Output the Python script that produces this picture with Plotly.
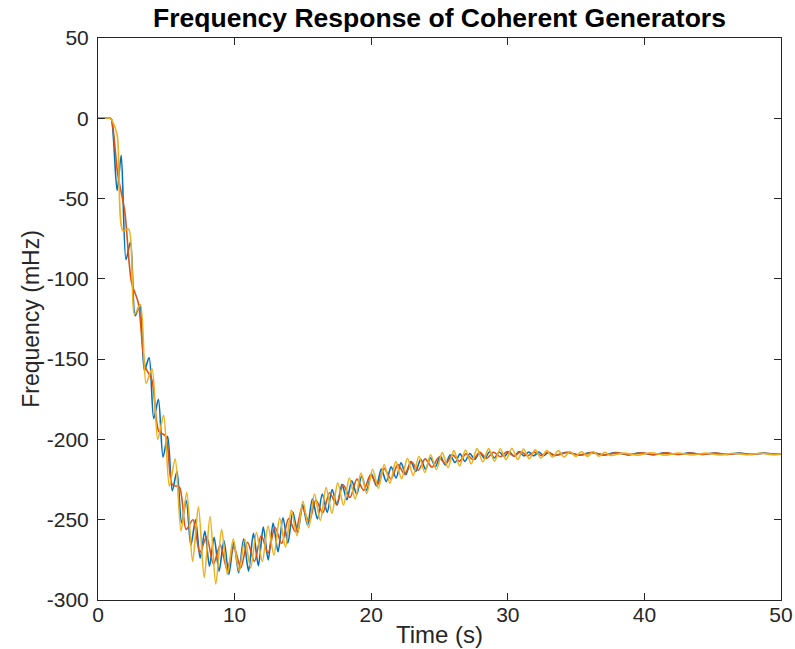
import plotly.graph_objects as go

# ---- data (time in s, frequency deviation in mHz) ----
t_blue = [0, 0.9, 1.0, 1.4, 1.7, 2.05, 2.38, 2.72, 3.06, 3.40, 3.74, 4.08, 4.42, 4.76, 5.10, 5.44, 5.78,
          6.12, 6.46, 6.80, 7.14, 7.48, 7.82, 8.16, 8.50, 8.86, 9.22, 9.58, 9.94, 10.30, 10.66, 11.02,
          11.38, 11.74, 12.10, 12.46, 12.82, 13.18, 13.54, 13.90, 14.26, 14.62, 14.98, 15.34, 15.70,
          16.06, 16.42, 16.78, 17.14, 17.50, 17.86, 18.22, 18.58, 18.94, 19.30, 19.66, 20.02, 20.38,
          20.74, 21.10, 21.46, 21.82, 22.18, 22.54, 22.90, 23.26, 23.62, 23.98, 24.34, 24.70, 25.06,
          25.42, 25.78, 26.14, 26.50, 26.86, 27.22, 27.58, 27.94, 28.30, 28.66, 29.02, 29.38, 29.74,
          30.10, 30.46, 30.82, 31.18, 31.54, 31.90, 32.26, 32.62, 33.0, 33.4, 34.3, 35.2, 36.1, 37.0,
          37.9, 38.8, 39.7, 40.6, 41.5, 42.4, 43.3, 44.2, 45.1, 46.0, 46.9, 47.8, 48.7, 49.6, 50.0]
f_blue = [0, 0, -1, -45, -23, -88, -77, -123, -116, -157, -149, -187, -175, -211, -198, -232, -220,
          -252, -238, -266, -250, -274, -257, -279, -261, -282, -263, -284, -264, -283, -262, -282,
          -258.5, -278.6, -254.6, -275, -252, -270, -248.8, -264.6, -245, -258, -240.6, -253.4, -237,
          -249.6, -234, -245.4, -231.2, -241, -228, -237.6, -225.7, -234.2, -222.8, -231.7, -221.4, -229,
          -218.5, -226.3, -217.1, -224, -214.6, -221.9, -213.7, -220, -212.3, -218.5, -211.5, -217, -210.4,
          -215.9, -209.8, -214.4, -209, -213.6, -208.8, -212.4, -208, -211.9, -207.7, -211.5, -207.8, -210.6,
          -207.5, -210.5, -207.6, -210.3, -207.8, -210.2, -207.8, -210.1, -208, -210, -208, -209.8, -208.1, -209.7,
          -208.2, -209.6, -208.3, -209.5, -208.4, -209.4, -208.4, -209.4, -208.5, -209.3, -208.5, -209.3, -208.5, -209.2, -209]

t_red = [0, 0.9, 1.0, 1.45, 1.95, 2.45, 2.95, 3.45, 3.95, 4.45, 4.95, 5.45, 5.95, 6.45, 6.95, 7.45,
         7.95, 8.45, 8.95, 9.45, 9.95, 10.45, 10.95, 11.45, 11.95, 12.45, 12.95, 13.45, 13.95, 14.45,
         14.95, 15.45, 15.95, 16.45, 16.95, 17.45, 17.95, 18.45, 18.95, 19.45, 19.95, 20.45, 20.95,
         21.45, 21.95, 22.45, 22.95, 23.45, 23.95, 24.45, 24.95, 25.45, 25.95, 26.45, 26.95, 27.45,
         27.95, 28.45, 28.95, 29.45, 29.95, 30.45, 30.95, 31.45, 31.95, 32.45, 32.95, 33.45, 34.4,
         35.3, 36.2, 37.1, 38.0, 38.9, 39.8, 40.7, 41.6, 42.5, 43.4, 44.3, 45.2, 46.1, 47.0, 47.9,
         48.8, 49.7, 50.0]
f_red = [0, 0, -1, -35, -57.5, -102, -115, -154.5, -163, -195, -198, -228.4, -229.5, -256, -250, -270.4,
         -260.6, -277.7, -265.8, -281, -267, -280, -264, -276, -259.8, -270.7, -254.8, -264.8, -249.3, -257.4,
         -242.3, -251.3, -237.7, -245.8, -233.2, -240.3, -228.2, -236.2, -224.7, -231.7, -222.1, -228.2, -218.2,
         -224.6, -215.7, -221.6, -214.1, -219.1, -212.1, -217.3, -211.1, -215.3, -209.6, -213.5, -209, -212.5,
         -208, -211.8, -208, -210.8, -207.6, -210.4, -207.7, -210.2, -207.9, -210, -208, -209.9, -208.1,
         -209.8, -208.2, -209.7, -208.3, -209.6, -208.3, -209.5, -208.4, -209.4, -208.5, -209.4, -208.5, -209.3, -208.6, -209.3,
         -208.6, -209.2, -209]

t_yellow = [0, 0.9, 1.0, 1.40, 1.825, 2.25, 2.675, 3.10, 3.525, 3.95, 4.375, 4.80, 5.225, 5.65, 6.075,
            6.50, 6.925, 7.35, 7.775, 8.20, 8.625, 9.05, 9.475, 9.90, 10.325, 10.75, 11.175, 11.60,
            12.025, 12.45, 12.875, 13.30, 13.725, 14.15, 14.575, 15.00, 15.425, 15.85, 16.275, 16.70,
            17.125, 17.55, 17.975, 18.40, 18.825, 19.25, 19.675, 20.10, 20.525, 20.95, 21.375, 21.80,
            22.225, 22.65, 23.075, 23.50, 23.925, 24.35, 24.775, 25.20, 25.625, 26.05, 26.475, 26.90,
            27.325, 27.75, 28.175, 28.60, 29.025, 29.45, 29.875, 30.30, 30.725, 31.15, 31.575, 32.00,
            32.425, 32.85, 33.275, 33.70, 34.125, 34.55, 34.975, 35.40, 35.825, 36.25, 36.675, 37.10,
            37.525, 38.5, 39.5, 40.5, 41.5, 42.5, 43.5, 44.5, 45.5, 46.5, 47.5, 48.5, 49.5, 50.0]
f_yellow = [0, 0, -1, -10, -70, -69, -122, -116, -165, -156, -200, -185, -229, -212, -257,
            -233, -276, -242, -286, -248, -290, -256, -284, -262, -282, -262, -280, -258,
            -276, -254, -272, -249, -267, -244, -260, -238.5, -255, -234, -250.5, -230,
            -246, -227, -241, -224, -237, -221, -233.6, -218.6, -230.4, -215.7, -227.3, -213.8,
            -224.5, -211.7, -222.4, -210.5, -220.6, -209.5, -218.8, -208.2, -217.6, -207, -216.5, -206.6,
            -215.2, -205.75, -213.9, -205.7, -213.5, -205.8, -212.5, -205.5, -212.5, -206, -212, -206.5,
            -211.5, -207, -211, -207, -211, -207.5, -210.5, -207.5, -210.5, -207.5, -210.5, -208,
            -210, -208.5, -209.8, -208.3, -209.8, -208.5, -209.7, -208.5, -209.7, -208.6, -209.6, -208.6, -209.6, -209]

x_ticks = [0, 10, 20, 30, 40, 50]
x_ticktext = ["0", "10", "20", "30", "40", "50"]
y_ticks = [-300, -250, -200, -150, -100, -50, 0, 50]
y_ticktext = ["-300", "-250", "-200", "-150", "-100", "-50", "0", "50"]

colors = ["#0072BD", "#D95319", "#EDB120"]
series = [(t_blue, f_blue), (t_red, f_red), (t_yellow, f_yellow)]

fig = go.Figure()
for (tt, ff), c in zip(series, colors):
    fig.add_trace(go.Scatter(x=tt, y=ff, mode="lines",
                             line=dict(color=c, width=1.6, shape="spline", smoothing=0.8),
                             showlegend=False, hoverinfo="skip"))

axis_col = "#262626"
font_fam = "Liberation Sans, Arial, sans-serif"
common = dict(showgrid=False, zeroline=False, showline=True, linecolor=axis_col, linewidth=1,
              mirror="ticks", ticks="inside", ticklen=7, tickwidth=1, tickcolor=axis_col,
              tickfont=dict(family=font_fam, size=21, color=axis_col))

fig.update_layout(
    width=795, height=649,
    margin=dict(l=98, r=14, t=38, b=49, autoexpand=False),
    paper_bgcolor="white", plot_bgcolor="white",
    title=dict(text="<b>Frequency Response of Coherent Generators</b>",
               x=(98 + 781) / 2 / 795, xanchor="center",
               y=1 - 18 / 649, yanchor="middle", yref="container",
               font=dict(family=font_fam, size=26.5, color="black")),
    xaxis=dict(range=[0, 50], tickvals=x_ticks, ticktext=x_ticktext, ticklabelstandoff=-4,
               title=dict(text="Time (s)", standoff=0,
                          font=dict(family=font_fam, size=24, color=axis_col)),
               **common),
    yaxis=dict(range=[-300, 50], tickvals=y_ticks, ticktext=y_ticktext, ticklabelstandoff=4,
               title=dict(text="Frequency (mHz)", standoff=0,
                          font=dict(family=font_fam, size=23, color=axis_col)),
               **common),
)

# remove the browser's default 8px body margin so the 795x649 figure fills the window exactly
fig.write_html("out.html", config={"displayModeBar": False},
               post_script="document.body.style.margin='0';document.body.style.overflow='hidden';")
